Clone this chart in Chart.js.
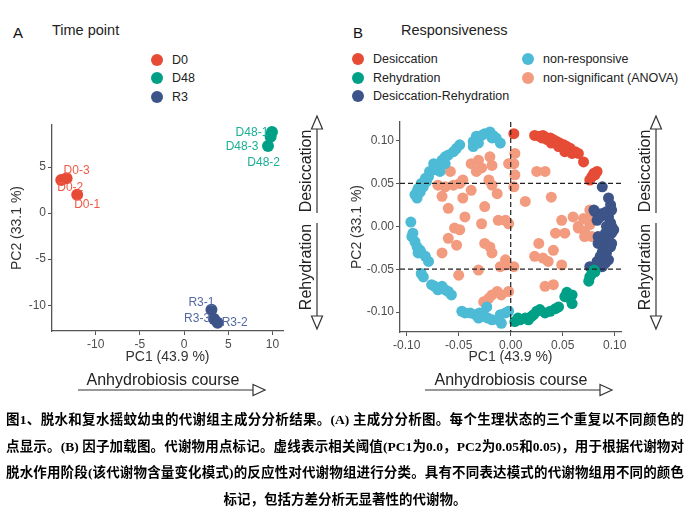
<!DOCTYPE html>
<html lang="zh">
<head>
<meta charset="UTF-8">
<title>PCA of metabolome</title>
<script src="https://cdn.jsdelivr.net/npm/chart.js"></script>
<style>
  body { margin: 0; background: #fff; font-family: 'Liberation Sans', Arial, sans-serif; }
  #page { position: relative; width: 690px; height: 526px; overflow: hidden; background: #fff; }
  .box { position: absolute; }
  .tag { position: absolute; font-size: 15px; color: #111; line-height: 18px; }
  .ttl { position: absolute; font-size: 14.5px; color: #222; line-height: 18px; white-space: nowrap; }
  .item { position: absolute; font-size: 12.5px; color: #222; line-height: 16px; white-space: nowrap; }
  .item i { position: absolute; left: -21px; top: 2px; width: 12px; height: 12px; border-radius: 50%; }
  .vtext { position: absolute; font-size: 16px; color: #222; white-space: nowrap; transform: translate(-50%, -50%) rotate(-90deg); }
  .htext { position: absolute; font-size: 16px; color: #222; white-space: nowrap; transform: translate(-50%, -50%); }
  #caption { position: absolute; left: 6px; top: 407px; width: 678px; font-family: 'Liberation Serif', 'Noto Sans CJK SC', serif; font-weight: bold; font-size: 13.5px; color: #000; }
  #caption div { height: 26.5px; line-height: 26.5px; text-align: justify; text-align-last: justify; }
  #caption div.last { text-align-last: center; }
</style>
</head>
<body>
<div id="page">
  <!-- panel A header + legend -->
  <div class="tag" style="left:13px;top:24px;">A</div>
  <div class="ttl" style="left:52px;top:21px;">Time point</div>
  <div class="item" style="left:172px;top:52px;"><i style="background:#E64B35"></i>D0</div>
  <div class="item" style="left:172px;top:70px;"><i style="background:#00A087"></i>D48</div>
  <div class="item" style="left:172px;top:89px;"><i style="background:#3C5488"></i>R3</div>

  <!-- panel B header + legend -->
  <div class="tag" style="left:353px;top:24px;">B</div>
  <div class="ttl" style="left:401px;top:21px;">Responsiveness</div>
  <div class="item" style="left:373px;top:51px;"><i style="background:#E64B35"></i>Desiccation</div>
  <div class="item" style="left:373px;top:70px;"><i style="background:#00A087"></i>Rehydration</div>
  <div class="item" style="left:373px;top:88px;"><i style="background:#3C5488"></i>Desiccation-Rehydration</div>
  <div class="item" style="left:543px;top:51px;"><i style="background:#4DBBD5"></i>non-responsive</div>
  <div class="item" style="left:543px;top:70px;"><i style="background:#F39B7F"></i>non-significant (ANOVA)</div>

  <div class="box" style="left:0;top:110px;"><canvas id="chartA" width="300" height="260"></canvas></div>
  <div class="box" style="left:345px;top:110px;"><canvas id="chartB" width="300" height="260"></canvas></div>

  <!-- annotation arrows -->
  <svg class="box" style="left:0;top:0;" width="690" height="400">
    <g stroke="#333" stroke-width="1.2" fill="#fff">
      <line x1="317" y1="129" x2="317" y2="213"/><line x1="317" y1="223" x2="317" y2="316"/>
      <polygon points="317,116 311.5,129 322.5,129"/><polygon points="317,329 311.5,316 322.5,316"/>
      <line x1="656" y1="129" x2="656" y2="213"/><line x1="656" y1="223" x2="656" y2="316"/>
      <polygon points="656,116 650.5,129 661.5,129"/><polygon points="656,329 650.5,316 661.5,316"/>
      <line x1="78" y1="390" x2="253" y2="390"/><polygon points="253,384.5 265,390 253,395.5"/>
      <line x1="425" y1="390" x2="600" y2="390"/><polygon points="600,384.5 612,390 600,395.5"/>
    </g>
  </svg>
  <div class="vtext" style="left:306px;top:171px;">Desiccation</div>
  <div class="vtext" style="left:306px;top:267px;">Rehydration</div>
  <div class="vtext" style="left:645px;top:171px;">Desiccation</div>
  <div class="vtext" style="left:645px;top:267px;">Rehydration</div>
  <div class="htext" style="left:163px;top:380px;">Anhydrobiosis course</div>
  <div class="htext" style="left:511px;top:380px;">Anhydrobiosis course</div>

  <div id="caption">
    <div>图1、脱水和复水摇蚊幼虫的代谢组主成分分析结果。(A) 主成分分析图。每个生理状态的三个重复以不同颜色的</div>
    <div>点显示。(B) 因子加载图。代谢物用点标记。虚线表示相关阈值(PC1为0.0，PC2为0.05和0.05)，用于根据代谢物对</div>
    <div>脱水作用阶段(该代谢物含量变化模式)的反应性对代谢物组进行分类。具有不同表达模式的代谢物组用不同的颜色</div>
    <div class="last">标记，包括方差分析无显著性的代谢物。</div>
  </div>
</div>

<script>
// ---- panel A: sample scores ----
const timePoints = ['D0', 'D48', 'R3'];
const d0 = [[-12.1, 2.0], [-13.9, 3.6], [-13.3, 3.8]];
const d48 = [[9.95, 8.8], [9.8, 8.3], [9.5, 7.3]];
const r3 = [[3.1, -10.5], [3.8, -11.9], [3.4, -11.5]];
const sampleLabels = [
  ['D0-1', 'D0-2', 'D0-3'],
  ['D48-1', 'D48-2', 'D48-3'],
  ['R3-1', 'R3-2', 'R3-3']
];
const xTicksA = [-10, -5, 0, 5, 10];
const yTicksA = [-10, -5, 0, 5];

// ---- panel B: metabolite loadings ----
const groups = ['Desiccation', 'Rehydration', 'Desiccation-Rehydration', 'non-responsive', 'non-significant (ANOVA)'];
const desiccation = [
  [0.003, 0.108], [0.023, 0.106], [0.028, 0.105], [0.033, 0.104], [0.038, 0.103], [0.041, 0.101],
  [0.044, 0.099], [0.047, 0.097], [0.051, 0.095], [0.054, 0.093], [0.057, 0.091], [0.062, 0.087],
  [0.065, 0.085], [0.070, 0.075], [0.080, 0.062], [0.083, 0.064], [0.078, 0.058], [0.076, 0.054],
  [0.081, 0.060], [0.046, 0.093], [0.052, 0.087], [0.039, 0.097], [0.031, 0.106], [0.035, 0.101],
  [0.030, 0.103], [0.059, 0.085]
];
const rehydration = [
  [0.080, -0.051], [0.078, -0.055], [0.076, -0.059], [0.075, -0.064], [0.081, -0.053], [0.054, -0.077],
  [0.059, -0.080], [0.057, -0.084], [0.059, -0.090], [0.052, -0.082], [0.043, -0.096], [0.038, -0.099],
  [0.033, -0.101], [0.028, -0.097], [0.025, -0.099], [0.020, -0.105], [0.014, -0.107], [0.009, -0.109],
  [0.004, -0.111], [0.007, -0.107], [0.017, -0.109], [0.022, -0.103], [0.046, -0.094]
];
const desRehyd = [
  [0.088, 0.046], [0.094, 0.033], [0.096, 0.025], [0.097, 0.019], [0.092, 0.017], [0.088, 0.015],
  [0.081, 0.017], [0.080, 0.019], [0.094, 0.011], [0.096, 0.004], [0.097, 0.000], [0.099, -0.004],
  [0.097, -0.008], [0.094, -0.012], [0.091, -0.016], [0.088, -0.018], [0.084, -0.020], [0.097, -0.020],
  [0.091, -0.024], [0.088, -0.030], [0.092, -0.031], [0.089, -0.037], [0.094, -0.039], [0.091, -0.043],
  [0.088, -0.047], [0.076, -0.047], [0.094, -0.016], [0.096, -0.024], [0.083, 0.007], [0.086, 0.011],
  [0.092, 0.000], [0.091, -0.008], [0.084, -0.012], [0.086, -0.035], [0.083, -0.041]
];
const nonResponsive = [
  [-0.036, 0.099], [-0.033, 0.105], [-0.028, 0.106], [-0.025, 0.108], [-0.020, 0.110], [-0.017, 0.106],
  [-0.014, 0.103], [-0.010, 0.097], [-0.018, 0.103], [-0.031, 0.097], [-0.036, 0.093],
  [-0.049, 0.095], [-0.052, 0.091], [-0.055, 0.087], [-0.060, 0.083], [-0.063, 0.081], [-0.066, 0.077],
  [-0.063, 0.073], [-0.071, 0.072], [-0.074, 0.073], [-0.078, 0.064], [-0.073, 0.066], [-0.068, 0.064],
  [-0.079, 0.058], [-0.082, 0.056], [-0.086, 0.050], [-0.081, 0.052], [-0.089, 0.044], [-0.090, 0.040],
  [-0.092, 0.037], [-0.090, 0.033], [-0.087, 0.040], [-0.084, 0.046],
  [-0.096, 0.005], [-0.094, -0.008], [-0.095, -0.012], [-0.092, -0.018], [-0.090, -0.024], [-0.087, -0.028],
  [-0.086, -0.031], [-0.082, -0.035], [-0.079, -0.041], [-0.089, -0.031],
  [-0.086, -0.055], [-0.084, -0.059], [-0.076, -0.068], [-0.073, -0.070], [-0.066, -0.070], [-0.063, -0.074],
  [-0.060, -0.076], [-0.057, -0.080], [-0.070, -0.074],
  [-0.047, -0.099], [-0.044, -0.101], [-0.039, -0.101], [-0.034, -0.103], [-0.030, -0.101], [-0.025, -0.105],
  [-0.022, -0.107], [-0.018, -0.109], [-0.028, -0.105], [-0.031, -0.107], [-0.012, -0.109], [-0.009, -0.113],
  [-0.005, -0.101], [-0.002, -0.099], [-0.010, -0.103], [-0.023, -0.094]
];
const nonSignificant = [
  [-0.038, 0.073], [-0.031, 0.077], [-0.028, 0.068], [-0.033, 0.064], [-0.020, 0.081], [-0.018, 0.071],
  [-0.021, 0.054], [-0.018, 0.048], [-0.013, 0.038], [-0.025, 0.023], [-0.038, 0.042], [-0.046, 0.054],
  [-0.049, 0.050], [-0.055, 0.048], [-0.058, 0.064], [-0.063, 0.046], [-0.070, 0.048], [-0.066, 0.035],
  [-0.060, 0.021], [-0.046, 0.033], [-0.044, 0.011], [-0.028, 0.003], [-0.012, 0.007], [-0.005, 0.007],
  [-0.002, 0.003], [-0.054, -0.002], [-0.049, -0.004], [-0.060, -0.014], [-0.052, -0.022], [-0.025, -0.020],
  [-0.020, -0.024], [-0.018, -0.031], [-0.066, -0.031], [-0.005, -0.039], [-0.010, -0.047], [-0.031, -0.051],
  [-0.050, -0.057], [-0.005, -0.045], [0.003, -0.047], [-0.013, -0.076], [-0.018, -0.080], [-0.021, -0.084],
  [-0.026, -0.088], [-0.002, -0.076], [-0.009, -0.080], [0.004, 0.085], [0.003, 0.073], [0.004, 0.060],
  [0.003, 0.046], [-0.002, 0.073], [0.025, 0.064], [0.033, 0.064], [0.014, 0.029], [0.039, 0.034],
  [0.049, 0.007], [0.060, 0.011], [0.070, 0.009], [0.078, 0.011], [0.065, 0.000], [0.071, -0.006],
  [0.076, 0.002], [0.043, -0.008], [0.027, -0.020], [0.041, -0.028], [0.031, -0.037], [0.036, -0.041],
  [0.049, -0.045], [0.023, -0.035], [0.033, -0.070], [0.041, -0.068], [0.052, -0.008], [0.071, -0.012],
  [0.078, -0.012], [0.076, 0.019], [0.065, -0.002]
];
const pc1Cut = [0.0];
const pc2Cut = [0.05, -0.05];
const xTicksB = [-0.10, -0.05, 0.00, 0.05, 0.10];
const yTicksB = [-0.10, -0.05, 0.00, 0.05, 0.10];

const npg = ['#E64B35', '#00A087', '#3C5488', '#4DBBD5', '#F39B7F'];

Chart.defaults.font.family = "'Liberation Sans', Arial, sans-serif";
Chart.defaults.animation = false;

const toXY = arr => arr.map(p => ({ x: p[0], y: p[1] }));
const fixedTicks = values => scale => { scale.ticks = values.map(v => ({ value: v })); };

function axis(min, max, ticks, title, fit, fmt, titlePad) {
  return {
    type: 'linear', min: min, max: max,
    afterBuildTicks: fixedTicks(ticks),
    afterFit: fit,
    grid: { drawOnChartArea: false, tickLength: 4, color: '#555', lineWidth: 1 },
    border: { color: '#555', width: 1.3 },
    ticks: { color: '#4d4d4d', font: { size: 12 }, padding: 2, callback: fmt },
    title: { display: true, text: title, color: '#333', font: { size: 14 }, padding: titlePad }
  };
}

// sample name text next to each point
const pointLabels = {
  id: 'pointLabels',
  afterDatasetsDraw(chart, args, opts) {
    const ctx = chart.ctx;
    ctx.save();
    ctx.font = "12px 'Liberation Sans', Arial, sans-serif";
    ctx.textAlign = 'center';
    ctx.textBaseline = 'middle';
    chart.data.datasets.forEach((ds, di) => {
      chart.getDatasetMeta(di).data.forEach((pt, i) => {
        const off = opts.offsets[di][i];
        ctx.fillStyle = opts.colors[di];
        ctx.fillText(sampleLabels[di][i], pt.x + off[0], pt.y + off[1]);
      });
    });
    ctx.restore();
  }
};

// dashed correlation thresholds
const thresholdLines = {
  id: 'thresholdLines',
  afterDatasetsDraw(chart) {
    const { ctx, chartArea: a, scales: { x, y } } = chart;
    ctx.save();
    ctx.setLineDash([5, 3]);
    ctx.strokeStyle = '#222';
    ctx.lineWidth = 1.2;
    ctx.beginPath();
    pc1Cut.forEach(v => { const px = x.getPixelForValue(v); ctx.moveTo(px, a.top); ctx.lineTo(px, a.bottom); });
    pc2Cut.forEach(v => { const py = y.getPixelForValue(v); ctx.moveTo(a.left, py); ctx.lineTo(a.right, py); });
    ctx.stroke();
    ctx.restore();
  }
};

new Chart(document.getElementById('chartA'), {
  type: 'scatter',
  data: {
    datasets: [d0, d48, r3].map((d, i) => ({
      label: timePoints[i], data: toXY(d), backgroundColor: npg[i], borderWidth: 0, pointRadius: 6, pointHoverRadius: 6
    }))
  },
  options: {
    responsive: false,
    layout: { padding: { left: 0, right: 17, top: 15, bottom: 0 } },
    plugins: {
      legend: { display: false }, tooltip: { enabled: false },
      pointLabels: {
        colors: ['#EE5A45', '#1BAF95', '#5469A3'],
        offsets: [[[10, 10], [9, 8], [10, -7]], [[-20, 1], [-7, 26], [-26, 1]], [[-10, -7], [17, 0], [-17, 0]]]
      }
    },
    scales: {
      x: axis(-14.95, 11.2, xTicksA, 'PC1 (43.9 %)', s => { s.height = 39; }, v => v, { top: 0, bottom: 4 }),
      y: axis(-12.8, 9.57, yTicksA, 'PC2 (33.1 %)', s => { s.width = 52; }, v => v, { top: 9, bottom: 0 })
    }
  },
  plugins: [pointLabels]
});

new Chart(document.getElementById('chartB'), {
  type: 'scatter',
  data: {
    datasets: [desiccation, rehydration, desRehyd, nonResponsive, nonSignificant].map((d, i) => ({
      label: groups[i], data: toXY(d), backgroundColor: npg[i], borderWidth: 0, pointRadius: 5.5, pointHoverRadius: 5.5
    }))
  },
  options: {
    responsive: false,
    layout: { padding: { left: 0, right: 24, top: 12, bottom: 0 } },
    plugins: { legend: { display: false }, tooltip: { enabled: false } },
    scales: {
      x: axis(-0.1064, 0.106, xTicksB, 'PC1 (43.9 %)', s => { s.height = 38; }, v => v.toFixed(2), { top: 0, bottom: 4 }),
      y: axis(-0.1232, 0.1216, yTicksB, 'PC2 (33.1 %)', s => { s.width = 55; }, v => v.toFixed(2), { top: 4, bottom: 0 })
    }
  },
  plugins: [thresholdLines]
});
</script>
</body>
</html>
